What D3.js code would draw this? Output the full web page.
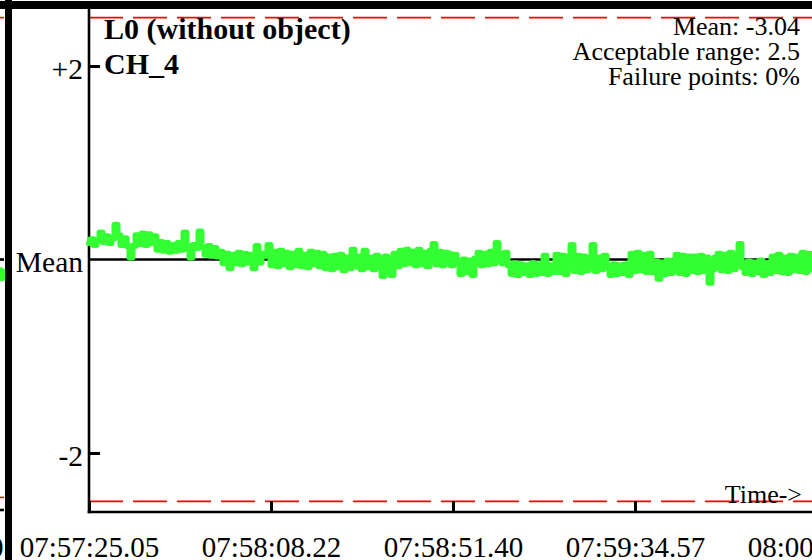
<!DOCTYPE html>
<html><head><meta charset="utf-8">
<script src="https://cdn.jsdelivr.net/npm/d3@7"></script>
<style>
html,body{margin:0;padding:0;background:#fff;}
svg{display:block;}
text{font-family:"Liberation Serif","Times New Roman",serif;fill:#000;}
</style></head><body>
<svg id="chart" width="812" height="560"></svg>
<script>
// ---------- data ----------
const titleLines = ["L0 (without object)", "CH_4"];
const statLines = ["Mean: -3.04", "Acceptable range: 2.5", "Failure points: 0%"];
const axisArrowLabel = "Time->";
const acceptableRange = 2.5;
const yTickValues = [2, 0, -2];
const yTickLabels = ["+2", "Mean", "-2"];
const xTickSeconds = [0, 43.175, 86.35, 129.525, 172.7];
const xTickLabels = ["07:57:25.05", "07:58:08.22", "07:58:51.40", "07:59:34.57", "08:00:17.75"];
const sampleInterval = 0.7117; // seconds between samples
// deviation from mean, per sample
const deviation = [
 0.17,0.21,0.15,0.20,0.28,0.18,0.24,0.17,0.22,0.36,
 0.25,0.15,0.22,0.14,0.02,0.14,0.25,0.16,0.27,0.15,
 0.26,0.17,0.24,0.10,0.18,0.09,0.17,0.08,0.15,0.09,
 0.17,0.10,0.28,0.12,0.02,0.15,0.12,0.29,0.13,0.05,
 0.14,0.04,0.12,0.03,0.08,-0.04,0.06,-0.09,0.05,-0.04,
 0.07,-0.05,0.06,-0.03,0.05,-0.09,0.14,-0.03,0.06,0.04,
 0.15,-0.06,0.08,-0.07,0.09,-0.05,0.07,-0.08,0.06,-0.06,
 0.09,-0.07,0.05,-0.08,0.08,-0.05,0.07,-0.07,0.06,-0.09,
 0.03,-0.10,0.04,-0.08,0.05,-0.11,0.02,-0.09,0.10,-0.07,
 0.03,-0.10,0.09,-0.08,0.02,-0.10,0.04,-0.08,-0.17,0.03,
 -0.09,-0.16,0.06,-0.07,0.09,-0.05,0.10,-0.04,0.08,-0.06,
 0.10,-0.05,0.07,-0.07,0.09,0.16,-0.05,0.08,-0.06,0.07,
 0.06,-0.06,0.05,-0.02,-0.15,0.00,-0.13,-0.01,-0.16,0.01,
 0.07,-0.06,0.06,-0.05,0.08,-0.04,0.17,0.06,-0.04,0.07,
 -0.06,-0.15,-0.04,-0.16,-0.05,-0.14,-0.06,-0.16,-0.04,-0.15,
 -0.05,-0.14,0.04,-0.15,-0.06,-0.13,0.05,-0.13,0.04,-0.15,
 0.03,0.15,-0.12,0.04,-0.13,0.03,-0.11,0.02,0.15,-0.12,
 0.02,-0.10,0.04,-0.07,-0.16,-0.05,-0.15,-0.06,-0.14,-0.05,
 -0.16,0.06,-0.12,0.07,-0.11,0.05,-0.13,0.06,-0.13,-0.02,
 -0.20,-0.03,-0.15,-0.01,-0.14,-0.02,0.05,-0.14,0.04,-0.15,
 0.03,-0.12,0.03,-0.13,0.04,-0.12,0.02,-0.24,-0.10,0.02,
 0.06,-0.11,0.05,-0.12,0.07,-0.10,0.05,0.16,-0.08,-0.14,
 -0.02,-0.15,-0.03,-0.13,-0.01,-0.16,-0.04,-0.14,0.03,-0.12,
 0.05,-0.13,0.02,-0.14,0.04,-0.11,0.03,-0.12,0.07,-0.13,
 0.06,-0.10
];
// last visible samples of the neighbouring (previous) panel
const prevPanelDeviation = [-0.11, -0.19, -0.13];
const prevPanelLastLabel = "0";

// ---------- layout ----------
const W = 812, H = 560;
const plotLeft = 89, plotBottom = 512, plotTop = 9;
const svg = d3.select("#chart");
const x = d3.scaleLinear().domain([0, 172.7]).range([plotLeft, 817]);
const y = d3.scaleLinear().domain([-acceptableRange, acceptableRange]).range([501.4, 17.6]);
const prevX = d3.scaleLinear().domain([0, prevPanelDeviation.length - 1]).range([0, 4]);

svg.append("rect").attr("width", W).attr("height", H).attr("fill", "#fff");

// previous panel sliver
const prev = svg.append("g");
prev.append("line").attr("x1", prevX(0)).attr("x2", prevX(2)).attr("y1", y(acceptableRange)).attr("y2", y(acceptableRange))
  .attr("stroke", "#ff0000").attr("stroke-width", 1.6);
prev.append("line").attr("x1", prevX(0)).attr("x2", prevX(2)).attr("y1", y(-acceptableRange) - 4).attr("y2", y(-acceptableRange) - 4)
  .attr("stroke", "#ff0000").attr("stroke-width", 1.6);
prev.append("line").attr("x1", prevX(0)).attr("x2", prevX(2)).attr("y1", y(0)).attr("y2", y(0))
  .attr("stroke", "#000").attr("stroke-width", 2.7);
prev.append("line").attr("x1", prevX(0)).attr("x2", prevX(2)).attr("y1", plotBottom - 2).attr("y2", plotBottom - 2)
  .attr("stroke", "#000").attr("stroke-width", 2.6);
prev.append("path").datum(prevPanelDeviation)
  .attr("d", d3.line().x((d, i) => prevX(i)).y(d => y(d)).curve(d3.curveStep))
  .attr("fill", "none").attr("stroke", "#33ff33").attr("stroke-width", 6)
  .attr("stroke-linejoin", "round").attr("stroke-linecap", "round");
prev.append("text").attr("x", prevX(2) - 0.5).attr("y", 557).attr("text-anchor", "end")
  .style("font-size", "29px").text(prevPanelLastLabel);

// acceptable range (red dashed)
[acceptableRange, -acceptableRange].forEach(v => {
  svg.append("line").attr("x1", plotLeft).attr("x2", W).attr("y1", y(v)).attr("y2", y(v))
    .attr("stroke", "#ff0000").attr("stroke-width", 1.6)
    .attr("stroke-dasharray", "34,10");
});

// mean line
svg.append("line").attr("x1", plotLeft).attr("x2", W).attr("y1", y(0)).attr("y2", y(0))
  .attr("stroke", "#000").attr("stroke-width", 2.7);

// axes
const yAxis = d3.axisLeft(y).tickValues(yTickValues)
  .tickFormat((d, i) => yTickLabels[i]).tickSize(-11).tickPadding(6).tickSizeOuter(0);
const gy = svg.append("g").attr("transform", `translate(${plotLeft},0)`).call(yAxis);
gy.select(".domain").remove();
gy.selectAll(".tick line").attr("stroke", "#000").attr("stroke-width", 3)
  .attr("stroke-opacity", (d) => d === 0 ? 0 : 1);
gy.selectAll(".tick text").style("font-size", "29.5px")
  .style("font-family", '"Liberation Serif","Times New Roman",serif').attr("fill", "#000").attr("dy", "0.42em");

const xAxis = d3.axisBottom(x).tickValues(xTickSeconds)
  .tickFormat((d, i) => xTickLabels[i]).tickSize(-11).tickPadding(24.5).tickSizeOuter(0);
const gx = svg.append("g").attr("transform", `translate(0,${plotBottom})`).call(xAxis);
gx.select(".domain").remove();
gx.selectAll(".tick line").attr("stroke", "#000").attr("stroke-width", 3);
gx.selectAll(".tick text").style("font-size", "29px")
  .style("font-family", '"Liberation Serif","Times New Roman",serif').attr("fill", "#000");

svg.append("line").attr("x1", plotLeft).attr("x2", plotLeft).attr("y1", plotTop).attr("y2", plotBottom + 1.3)
  .attr("stroke", "#000").attr("stroke-width", 2.6);
svg.append("line").attr("x1", plotLeft - 1.3).attr("x2", W).attr("y1", plotBottom).attr("y2", plotBottom)
  .attr("stroke", "#000").attr("stroke-width", 2.6);

// data trace
svg.append("path").datum(deviation)
  .attr("d", d3.line().x((d, i) => x(i * sampleInterval)).y(d => y(d)).curve(d3.curveStep))
  .attr("fill", "none").attr("stroke", "#33ff33").attr("stroke-width", 6)
  .attr("stroke-linejoin", "round").attr("stroke-linecap", "round");

// texts
svg.selectAll("text.title").data(titleLines).enter().append("text").attr("class", "title")
  .attr("x", 104).attr("y", (d, i) => 39 + i * 34.5)
  .style("font-size", "30px").style("font-weight", "bold").text(d => d);
svg.selectAll("text.stat").data(statLines).enter().append("text").attr("class", "stat")
  .attr("x", 800).attr("y", (d, i) => 35 + i * 25).attr("text-anchor", "end")
  .style("font-size", "26px").text(d => d);
svg.append("text").attr("x", 802).attr("y", 503).attr("text-anchor", "end")
  .style("font-size", "26px").text(axisArrowLabel);

// panel frame (thick separators)
svg.append("rect").attr("x", 0).attr("y", 1).attr("width", W).attr("height", 8).attr("fill", "#000");
svg.append("rect").attr("x", 5).attr("y", 0).attr("width", 7).attr("height", H).attr("fill", "#000");
</script>
</body></html>
